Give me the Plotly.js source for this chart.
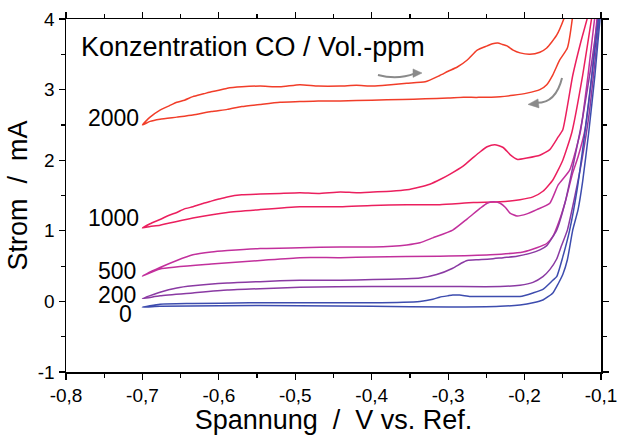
<!DOCTYPE html>
<html>
<head>
<meta charset="utf-8">
<script src="https://cdn.plot.ly/plotly-3.0.1.min.js"></script>
<style>html,body{margin:0;padding:0;background:#fff;}#chart{width:626px;height:435px;}</style>
</head>
<body>
<div id="chart"></div>
<script>
// Concentration labels (Vol.-ppm)
const concentrations = ["2000", "1000", "500", "200", "0"];
const colors = ["#f13d29", "#eb1f5e", "#c2309c", "#8a3aa3", "#3d4cae"];

// Cyclic voltammograms: voltage (V vs. Ref.) and current (mA), forward sweep then return sweep
const V2000 = [-0.700,-0.690,-0.677,-0.665,-0.655,-0.645,-0.634,-0.620,-0.610,-0.600,-0.589,-0.570,-0.546,-0.520,-0.494,-0.470,-0.441,-0.420,-0.398,-0.375,-0.354,-0.330,-0.311,-0.300,-0.288,-0.275,-0.262,-0.249,-0.242,-0.235,-0.229,-0.223,-0.215,-0.206,-0.193,-0.180,-0.171,-0.158,-0.147,-0.140,
  -0.135,-0.137,-0.144,-0.154,-0.163,-0.171,-0.180,-0.197,-0.215,-0.232,-0.260,-0.280,-0.300,-0.330,-0.360,-0.400,-0.441,-0.470,-0.494,-0.520,-0.546,-0.570,-0.589,-0.610,-0.634,-0.655,-0.677,-0.690,-0.700];
const I2000 = [2.50,2.61,2.71,2.77,2.82,2.85,2.90,2.94,2.97,2.99,3.02,3.04,3.05,3.04,3.07,3.05,3.05,3.06,3.05,3.07,3.09,3.11,3.20,3.26,3.32,3.42,3.56,3.62,3.65,3.66,3.64,3.62,3.56,3.52,3.50,3.53,3.59,3.77,4.05,4.30,
  4.30,4.05,3.59,3.42,3.21,3.07,3.00,2.95,2.92,2.90,2.89,2.89,2.88,2.87,2.86,2.85,2.84,2.84,2.83,2.82,2.79,2.76,2.72,2.69,2.64,2.61,2.58,2.55,2.50];

const V1000 = [-0.700,-0.690,-0.677,-0.665,-0.655,-0.645,-0.634,-0.620,-0.610,-0.600,-0.589,-0.570,-0.546,-0.520,-0.494,-0.470,-0.441,-0.420,-0.398,-0.375,-0.354,-0.337,-0.324,-0.310,-0.298,-0.280,-0.267,-0.258,-0.249,-0.239,-0.228,-0.219,-0.209,-0.197,-0.180,-0.167,-0.156,-0.150,-0.137,-0.127,-0.117,-0.112,
  -0.108,-0.112,-0.124,-0.138,-0.150,-0.163,-0.176,-0.189,-0.206,-0.232,-0.267,-0.311,-0.354,-0.400,-0.441,-0.494,-0.546,-0.589,-0.634,-0.677,-0.690,-0.700];
const I1000 = [1.04,1.10,1.16,1.22,1.26,1.31,1.34,1.39,1.42,1.45,1.48,1.51,1.52,1.53,1.54,1.53,1.55,1.54,1.55,1.56,1.58,1.62,1.66,1.73,1.80,1.92,2.04,2.12,2.19,2.22,2.18,2.08,2.01,2.03,2.07,2.15,2.33,2.43,3.20,3.65,4.05,4.30,
  4.30,4.03,3.20,2.40,2.00,1.72,1.56,1.48,1.44,1.41,1.40,1.37,1.37,1.36,1.34,1.34,1.30,1.26,1.18,1.08,1.06,1.04];

const V500 = [-0.700,-0.677,-0.655,-0.634,-0.610,-0.589,-0.546,-0.494,-0.441,-0.398,-0.354,-0.337,-0.320,-0.294,-0.275,-0.258,-0.249,-0.240,-0.232,-0.225,-0.219,-0.210,-0.197,-0.184,-0.167,-0.156,-0.141,-0.127,-0.117,-0.108,-0.102,
  -0.100,-0.105,-0.112,-0.121,-0.130,-0.137,-0.147,-0.154,-0.163,-0.171,-0.184,-0.202,-0.245,-0.311,-0.400,-0.441,-0.494,-0.546,-0.610,-0.677,-0.700];
const I500 = [0.36,0.48,0.58,0.66,0.70,0.72,0.75,0.76,0.77,0.77,0.80,0.83,0.90,1.01,1.17,1.32,1.39,1.41,1.39,1.33,1.25,1.21,1.24,1.30,1.39,1.65,1.86,2.40,3.20,4.03,4.40,
  4.40,4.03,3.20,2.43,2.05,1.82,1.40,1.16,0.92,0.82,0.76,0.70,0.66,0.64,0.63,0.62,0.62,0.58,0.53,0.46,0.36];

const V200 = [-0.700,-0.677,-0.655,-0.634,-0.589,-0.546,-0.494,-0.441,-0.398,-0.354,-0.337,-0.315,-0.294,-0.283,-0.275,-0.260,-0.245,-0.228,-0.210,-0.193,-0.180,-0.171,-0.158,-0.147,-0.137,-0.124,-0.112,-0.104,-0.100,
  -0.099,-0.102,-0.106,-0.115,-0.125,-0.134,-0.144,-0.152,-0.158,-0.167,-0.176,-0.189,-0.206,-0.232,-0.300,-0.400,-0.494,-0.546,-0.589,-0.634,-0.677,-0.700];
const I200 = [0.04,0.13,0.19,0.22,0.26,0.28,0.30,0.30,0.31,0.32,0.33,0.38,0.47,0.54,0.58,0.59,0.60,0.62,0.64,0.68,0.73,0.79,1.01,1.40,1.90,2.60,3.40,4.03,4.40,
  4.40,4.03,3.60,2.70,2.00,1.50,1.01,0.78,0.60,0.45,0.35,0.27,0.23,0.21,0.21,0.21,0.20,0.18,0.16,0.12,0.08,0.04];

const V0 = [-0.700,-0.677,-0.634,-0.560,-0.494,-0.400,-0.337,-0.320,-0.311,-0.300,-0.294,-0.285,-0.271,-0.250,-0.232,-0.206,-0.189,-0.176,-0.163,-0.158,-0.150,-0.141,-0.131,-0.121,-0.112,-0.103,-0.099,
  -0.097,-0.101,-0.108,-0.116,-0.124,-0.130,-0.137,-0.144,-0.150,-0.156,-0.163,-0.176,-0.189,-0.206,-0.232,-0.300,-0.400,-0.494,-0.600,-0.677,-0.700];
const I0 = [-0.08,-0.04,-0.03,-0.02,-0.02,-0.02,0.00,0.03,0.06,0.08,0.09,0.09,0.07,0.07,0.07,0.07,0.12,0.17,0.30,0.35,0.63,1.01,1.60,2.40,3.20,4.03,4.40,
  4.40,4.03,3.20,2.40,1.70,1.30,1.01,0.59,0.38,0.25,0.12,0.02,-0.02,-0.05,-0.07,-0.08,-0.07,-0.06,-0.06,-0.07,-0.08];

// Axis ticks
const xTickVals = [-0.8,-0.7,-0.6,-0.5,-0.4,-0.3,-0.2,-0.1];
const xTickText = ["-0,8","-0,7","-0,6","-0,5","-0,4","-0,3","-0,2","-0,1"];
const yTickVals = [-1,0,1,2,3,4];
const yTickText = ["-1","0","1","2","3","4"];

const seriesV = [V2000, V1000, V500, V200, V0];
const seriesI = [I2000, I1000, I500, I200, I0];

const FONT = "Liberation Sans, Arial, Helvetica, sans-serif";

const traces = concentrations.map((c, k) => ({
  type: "scatter", mode: "lines", name: c,
  x: seriesV[k], y: seriesI[k],
  line: {color: colors[k], width: 1.5, shape: "spline", smoothing: 0.5},
  hoverinfo: "skip"
}));

// label positions for the concentration labels
const labelX = [-0.703, -0.703, -0.707, -0.707, -0.712];
const labelY = [2.60, 1.185, 0.436, 0.096, -0.173];

const annotations = concentrations.map((c, k) => ({
  text: c, x: labelX[k], y: labelY[k], xref: "x", yref: "y",
  xanchor: "right", yanchor: "middle", showarrow: false, borderpad: 0,
  font: {family: FONT, size: 23, color: "#000"}
}));
annotations.push({
  text: "Konzentration CO / Vol.-ppm", x: -0.7817, y: 3.60, xref: "x", yref: "y",
  xanchor: "left", yanchor: "middle", showarrow: false, borderpad: 0,
  font: {family: FONT, size: 27, color: "#000"}
});

const grey = "#8a8a8a";
const shapes = [
  {type: "path", xref: "x", yref: "y", path: "M -0.3918 3.208 Q -0.3663 3.133 -0.3434 3.229", line: {color: grey, width: 2}},
  {type: "path", xref: "x", yref: "y", path: "M -0.3342 3.235 L -0.346 3.293 L -0.346 3.173 Z", fillcolor: grey, line: {color: grey, width: 0.5}},
  {type: "path", xref: "x", yref: "y", path: "M -0.151 3.165 Q -0.159 2.812 -0.1837 2.812", line: {color: grey, width: 2}},
  {type: "path", xref: "x", yref: "y", path: "M -0.1955 2.79 L -0.1824 2.868 L -0.1811 2.741 Z", fillcolor: grey, line: {color: grey, width: 0.5}}
];

const axisCommon = {
  showgrid: false, zeroline: false, showline: true, linecolor: "#000", linewidth: 1.5,
  mirror: "ticks", ticks: "outside", ticklen: 6, tickwidth: 1.2, tickcolor: "#000",
  tickfont: {family: FONT, size: 19, color: "#000"}
};

const layout = {
  width: 626, height: 435,
  margin: {l: 66, r: 25, t: 19, b: 63},
  paper_bgcolor: "#fff", plot_bgcolor: "#fff",
  showlegend: false,
  separators: ",.",
  xaxis: Object.assign({}, axisCommon, {
    range: [-0.8, -0.1], tickmode: "array", tickvals: xTickVals, ticktext: xTickText,
    minor: {tickmode: "linear", tick0: -0.8, dtick: 0.05, ticks: "outside", ticklen: 4, tickcolor: "#000", tickwidth: 1.2},
    title: {text: "Spannung\u00a0\u00a0/\u00a0\u00a0V vs. Ref.", font: {family: FONT, size: 27, color: "#000"}, standoff: 4}
  }),
  yaxis: Object.assign({}, axisCommon, {
    range: [-1, 4], tickmode: "array", tickvals: yTickVals, ticktext: yTickText,
    minor: {tickmode: "linear", tick0: -1, dtick: 0.5, ticks: "outside", ticklen: 4, tickcolor: "#000", tickwidth: 1.2},
    title: {text: "Strom\u00a0\u00a0/\u00a0\u00a0mA", font: {family: FONT, size: 27, color: "#000"}, standoff: 2}
  }),
  annotations: annotations,
  shapes: shapes
};

Plotly.newPlot("chart", traces, layout, {displayModeBar: false, staticPlot: true});
</script>
</body>
</html>
